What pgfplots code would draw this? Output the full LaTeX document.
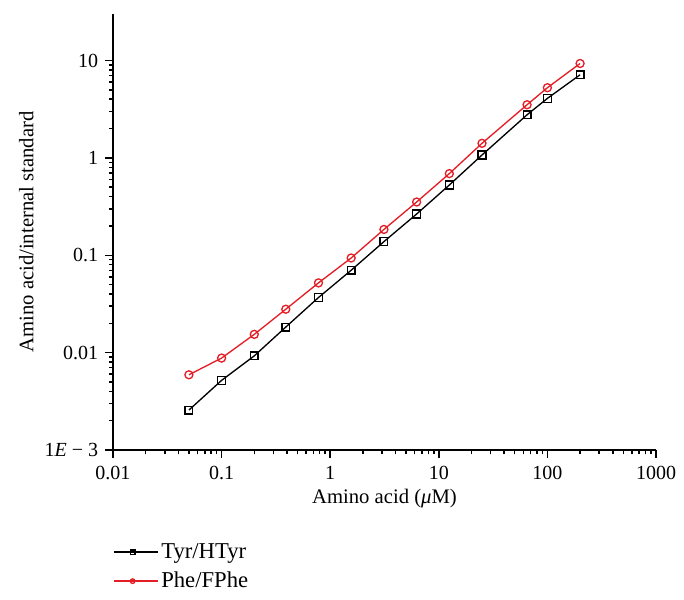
\documentclass[border=0pt]{standalone}
\usepackage{fontspec}
\setmainfont{Liberation Serif}
\usepackage{pgfplots}
\pgfplotsset{compat=1.18}
\definecolor{myred}{RGB}{228,30,38}
\begin{document}
\fontsize{15}{18}\selectfont
\begin{tikzpicture}
\begin{axis}[
  scale only axis,
  width=407.25pt, height=327pt,
  xmode=log, ymode=log,
  xmin=0.01, xmax=1000, ymin=0.001, ymax=30,
  axis x line*=bottom, axis y line*=left,
  axis line style={-, line width=1.1pt},
  tick align=outside,
  major tick length=6pt, minor tick length=3pt,
  every tick/.style={line width=1.1pt, black},
  xtick={0.01,0.1,1,10,100,1000},
  xticklabels={0.01,0.1,1,10,100,1000},
  ytick={0.001,0.01,0.1,1,10},
  yticklabels={1\textit{E} − 3,0.01,0.1,1,10},
  xticklabel style={font=\fontsize{15}{18}\selectfont, yshift=-1pt},
  yticklabel style={font=\fontsize{15}{18}\selectfont},
  xlabel={Amino acid (\textit{μ}M)},
  ylabel={Amino acid/internal standard},
  label style={font=\fontsize{15.5}{18}\selectfont},
  xlabel style={yshift=3pt},
  ylabel style={yshift=-2pt},
  legend style={at={(0,-0.207)}, anchor=north west, draw=none, fill=none,
    font=\fontsize{17}{20}\selectfont, inner sep=0pt, row sep=4pt},
  legend cell align=left,
  legend image code/.code={
    \path (0pt,0pt) -- (33pt,0pt);
    \draw[#1, mark=none] (0pt,0pt) -- (28pt,0pt);
    \draw[#1, mark size=1.7pt] plot coordinates {(14pt,0pt)};
  },
]
\addplot[black, line width=1pt, mark=square, mark size=2.9pt, mark options={line width=1pt, fill=white}] coordinates {
(0.05,0.00257) (0.1,0.00519) (0.2,0.00927) (0.39,0.0183) (0.78,0.0368)
(1.56,0.0701) (3.125,0.138) (6.25,0.265) (12.5,0.526) (25,1.07)
(65,2.77) (100,4.08) (200,7.13)
};
\addlegendentry{Tyr/HTyr}
\addplot[myred, line width=1pt, mark=o, mark size=3pt, mark options={line width=1pt, fill=white}] coordinates {
(0.05,0.00592) (0.1,0.00879) (0.2,0.0154) (0.39,0.0279) (0.78,0.0520)
(1.56,0.0937) (3.125,0.184) (6.25,0.352) (12.5,0.689) (25,1.41)
(65,3.51) (100,5.25) (200,9.31)
};
\addlegendentry{Phe/FPhe}
\end{axis}
\pgfresetboundingbox
\useasboundingbox (-84.75pt,-111.75pt) rectangle (428.25pt,337.5pt);
\end{tikzpicture}
\end{document}
